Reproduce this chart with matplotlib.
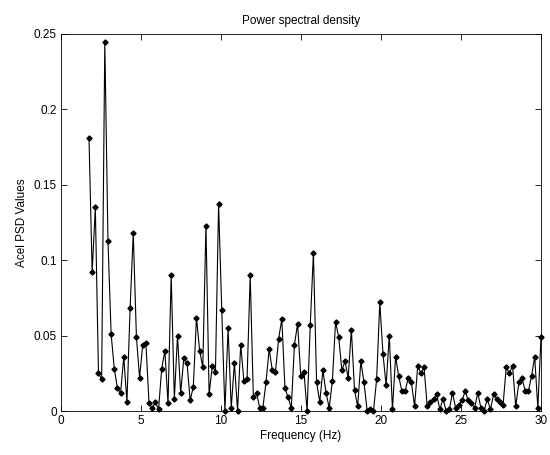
import numpy as np
import matplotlib
matplotlib.use('Agg')
import matplotlib.pyplot as plt

# frequency bins (evenly spaced, first bin ~1.75 Hz, last at 30 Hz)
n_bins = 144
freq = np.linspace(1.75, 30.0, n_bins)

psd = [0.181, 0.092, 0.135, 0.025, 0.021, 0.245, 0.113, 0.051, 0.028, 0.015,
       0.012, 0.036, 0.006, 0.068, 0.118, 0.049, 0.022, 0.044, 0.045, 0.005,
       0.002, 0.006, 0.001, 0.028, 0.040, 0.005, 0.090, 0.008, 0.050, 0.012,
       0.035, 0.032, 0.007, 0.016, 0.062, 0.040, 0.029, 0.123, 0.011, 0.030,
       0.026, 0.137, 0.067, 0.000, 0.055, 0.002, 0.032, 0.000, 0.044, 0.020,
       0.021, 0.090, 0.009, 0.012, 0.002, 0.002, 0.019, 0.041, 0.027, 0.026,
       0.048, 0.061, 0.015, 0.009, 0.002, 0.044, 0.058, 0.023, 0.026, 0.000,
       0.057, 0.105, 0.019, 0.006, 0.027, 0.012, 0.002, 0.020, 0.059, 0.049,
       0.027, 0.033, 0.022, 0.054, 0.014, 0.003, 0.033, 0.019, 0.000, 0.001,
       0.000, 0.021, 0.072, 0.038, 0.017, 0.050, 0.001, 0.036, 0.023, 0.013,
       0.013, 0.022, 0.019, 0.003, 0.030, 0.025, 0.029, 0.003, 0.006, 0.008,
       0.011, 0.001, 0.008, 0.000, 0.001, 0.012, 0.002, 0.004, 0.007, 0.013,
       0.007, 0.005, 0.002, 0.012, 0.002, 0.000, 0.008, 0.001, 0.011, 0.008,
       0.006, 0.004, 0.029, 0.025, 0.030, 0.003, 0.019, 0.022, 0.013, 0.013,
       0.023, 0.036, 0.002, 0.049]

xticks = [0, 5, 10, 15, 20, 25, 30]
yticks = [0, 0.05, 0.1, 0.15, 0.2, 0.25]
ytick_labels = ['0', '0.05', '0.1', '0.15', '0.2', '0.25']

plt.rcParams['font.family'] = ['Liberation Sans', 'DejaVu Sans']
plt.rcParams['font.size'] = 8

fig = plt.figure(figsize=(5.5, 4.55), dpi=100)
ax = fig.add_axes([61/550, 44/455, 480/550, 377/455])
ax.plot(freq, psd, '-', color='black', lw=0.8, marker='D', ms=2.6,
        mfc='black', mec='black', clip_on=False, zorder=3)

ax.set_xlim(0, 30)
ax.set_ylim(0, 0.25)
ax.set_xticks(xticks)
ax.set_yticks(yticks)
ax.set_yticklabels(ytick_labels)
ax.tick_params(direction='in', top=True, right=True, length=4, width=0.6,
               labelsize=8.5, pad=3)
for s in ax.spines.values():
    s.set_linewidth(0.6)

ax.set_xlabel('Frequency (Hz)', fontsize=8.5, labelpad=2)
ax.set_ylabel('Acel PSD Values', fontsize=8.5, labelpad=4)
ax.set_title('Power spectral density', fontsize=8.5, pad=7)

fig.savefig('out.png', dpi=100)
